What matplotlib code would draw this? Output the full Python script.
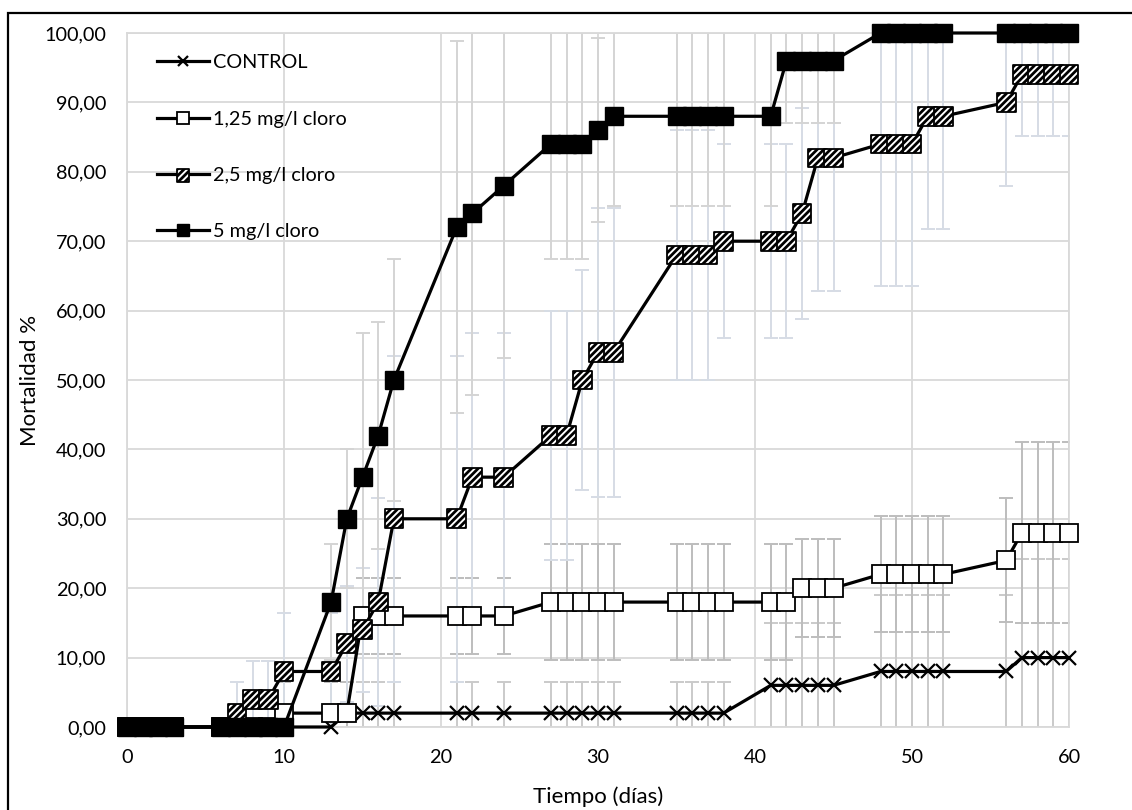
import matplotlib
matplotlib.use("Agg")
import matplotlib.pyplot as plt
from matplotlib.lines import Line2D
from matplotlib.patches import Rectangle
from matplotlib.legend_handler import HandlerTuple
from matplotlib.ticker import FuncFormatter

plt.rcParams['font.family'] = ['Lato', 'DejaVu Sans']
plt.rcParams['hatch.linewidth'] = 2.0
plt.rcParams['hatch.color'] = 'black'

# ---- data ----
days = [0, 1, 2, 3, 6, 7, 8, 9, 10, 13, 14, 15, 16, 17, 21, 22, 24, 27, 28, 29, 30, 31,
        35, 36, 37, 38, 41, 42, 43, 44, 45, 48, 49, 50, 51, 52, 56, 57, 58, 59, 60]

control = [0, 0, 0, 0, 0, 0, 0, 0, 0, 0, 2, 2, 2, 2, 2, 2, 2, 2, 2, 2, 2, 2,
           2, 2, 2, 2, 6, 6, 6, 6, 6, 8, 8, 8, 8, 8, 8, 10, 10, 10, 10]
control_sd = [0, 0, 0, 0, 0, 0, 0, 0, 0, 0, 4.47, 4.47, 4.47, 4.47, 4.47, 4.47, 4.47,
              4.47, 4.47, 4.47, 4.47, 4.47, 4.47, 4.47, 4.47, 4.47,
              8.94, 8.94, 8.94, 8.94, 8.94, 10.95, 10.95, 10.95, 10.95, 10.95,
              10.95, 14.14, 14.14, 14.14, 14.14]

c125 = [0, 0, 0, 0, 0, 0, 0, 0, 2, 2, 2, 16, 16, 16, 16, 16, 16, 18, 18, 18, 18, 18,
        18, 18, 18, 18, 18, 18, 20, 20, 20, 22, 22, 22, 22, 22, 24, 28, 28, 28, 28]
c125_sd = [0, 0, 0, 0, 0, 0, 0, 0, 4.47, 4.47, 4.47, 5.48, 5.48, 5.48, 5.48, 5.48, 5.48,
           8.37, 8.37, 8.37, 8.37, 8.37, 8.37, 8.37, 8.37, 8.37,
           8.37, 8.37, 7.07, 7.07, 7.07, 8.37, 8.37, 8.37, 8.37, 8.37,
           8.94, 13.04, 13.04, 13.04, 13.04]

c25 = [0, 0, 0, 0, 0, 2, 4, 4, 8, 8, 12, 14, 18, 30, 30, 36, 36, 42, 42, 50, 54, 54,
       68, 68, 68, 70, 70, 70, 74, 82, 82, 84, 84, 84, 88, 88, 90, 94, 94, 94, 94]
c25_sd = [0, 0, 0, 0, 0, 4.47, 5.48, 5.48, 8.37, 8.37, 8.37, 8.9, 15, 23.5, 23.5, 20.8, 20.8,
          17.9, 17.9, 15.8, 20.8, 20.8, 18, 18, 18, 14, 14, 14, 15.2, 19.2, 19.2,
          20.5, 20.5, 20.5, 16.3, 16.3, 12.1, 8.9, 8.9, 8.9, 8.9]

c5 = [0, 0, 0, 0, 0, 0, 0, 0, 0, 18, 30, 36, 42, 50, 72, 74, 78, 84, 84, 84, 86, 88,
      88, 88, 88, 88, 88, 96, 96, 96, 96, 100, 100, 100, 100, 100, 100, 100, 100, 100, 100]
c5_sd = [0, 0, 0, 0, 0, 0, 0, 0, 0, 8.37, 10, 20.8, 16.4, 17.4, 26.8, 26.1, 24.8,
         16.5, 16.5, 16.5, 13.3, 13, 13, 13, 13, 13, 13, 8.9, 8.9, 8.9, 8.9,
         0, 0, 0, 0, 0, 0, 0, 0, 0, 0]

labels = ["CONTROL", "1,25 mg/l cloro", "2,5 mg/l cloro", "5 mg/l cloro"]
xticks = [0, 10, 20, 30, 40, 50, 60]
yticks = [0, 10, 20, 30, 40, 50, 60, 70, 80, 90, 100]

# ---- figure ----
W, H = 1132, 810
fig = plt.figure(figsize=(W / 100, H / 100), dpi=100)
ax = fig.add_axes([127 / W, 1 - 727 / H, (1069 - 127) / W, (727 - 33) / H])

grid_c = '#D9D9D9'
ax.set_xlim(0, 60)
ax.set_ylim(0, 100)
ax.set_xticks(xticks)
ax.set_yticks(yticks)
ax.grid(True, color=grid_c, lw=1.3, zorder=0)
ax.set_axisbelow(True)
for s in ax.spines.values():
    s.set_color(grid_c)
    s.set_linewidth(1.3)
ax.tick_params(length=0, labelsize=14.3, colors='black')
ax.tick_params(axis='y', pad=15)
ax.tick_params(axis='x', pad=16)
ax.yaxis.set_major_formatter(FuncFormatter(lambda v, p: f"{v:.2f}".replace('.', ',')))

# error bars
err_kw = dict(fmt='none', elinewidth=1.4, capsize=4.8, capthick=1.4, zorder=1.5)
ax.errorbar(days, control, yerr=control_sd, ecolor='#CACACA', **err_kw)
ax.errorbar(days, c125, yerr=c125_sd, ecolor='#BDBDBD', **err_kw)
ax.errorbar(days, c25, yerr=c25_sd, ecolor='#D6DCE5', **err_kw)
ax.errorbar(days, c5, yerr=c5_sd, ecolor='#D4D4D4', **err_kw)

lw = 2.3
ms = 13.5
# control
ax.plot(days, control, color='black', lw=lw, marker='x', ms=10, mew=1.6,
        mec='black', zorder=3, clip_on=False)
# 1.25
ax.plot(days, c125, color='black', lw=lw, marker='s', ms=ms, mfc='white', mec='black',
        mew=1.3, zorder=4, clip_on=False)
# 2.5 hatched
ax.plot(days, c25, color='black', lw=lw, zorder=5, clip_on=False)
sc25 = ax.scatter(days, c25, s=ms ** 2, marker='s', facecolor='white', edgecolor='black',
                  linewidths=1.3, hatch='/////', zorder=5.5, clip_on=False)
# 5
ax.plot(days, c5, color='black', lw=lw, marker='s', ms=ms, mfc='black', mec='black',
        zorder=6, clip_on=False)

# legend
h_ctrl = Line2D([], [], color='black', lw=lw, marker='x', ms=10, mew=1.6)
h_125 = Line2D([], [], color='black', lw=lw, marker='s', ms=ms, mfc='white', mec='black', mew=1.3)
h_25 = (Line2D([], [], color='black', lw=lw), sc25)
h_5 = Line2D([], [], color='black', lw=lw, marker='s', ms=ms, mfc='black', mec='black')
leg = ax.legend([h_ctrl, h_125, h_25, h_5], labels, loc='upper left',
                bbox_to_anchor=(0.013, 0.995), frameon=False, fontsize=14.3,
                handlelength=2.6, handletextpad=0.2, labelspacing=1.98,
                markerscale=0.68, scatterpoints=1, numpoints=1,
                handler_map={tuple: HandlerTuple(ndivide=1, pad=0)})
leg.set_zorder(10)

ax.set_ylabel("Mortalidad %", fontsize=16)
ax.set_xlabel("Tiempo (días)", fontsize=16)
ax.yaxis.set_label_coords((30 - 127) / (1069 - 127), 0.5)
ax.xaxis.set_label_coords(0.5, -(797 - 727) / (727 - 33))
ax.xaxis.label.set_va('center')
ax.yaxis.label.set_va('center')

fig.add_artist(Rectangle((8 / W, -0.1), 1.2, 0.1 + 1 - 13 / H, transform=fig.transFigure,
                         fill=False, lw=1.6, edgecolor='black'))

fig.savefig("out.png", dpi=100)
